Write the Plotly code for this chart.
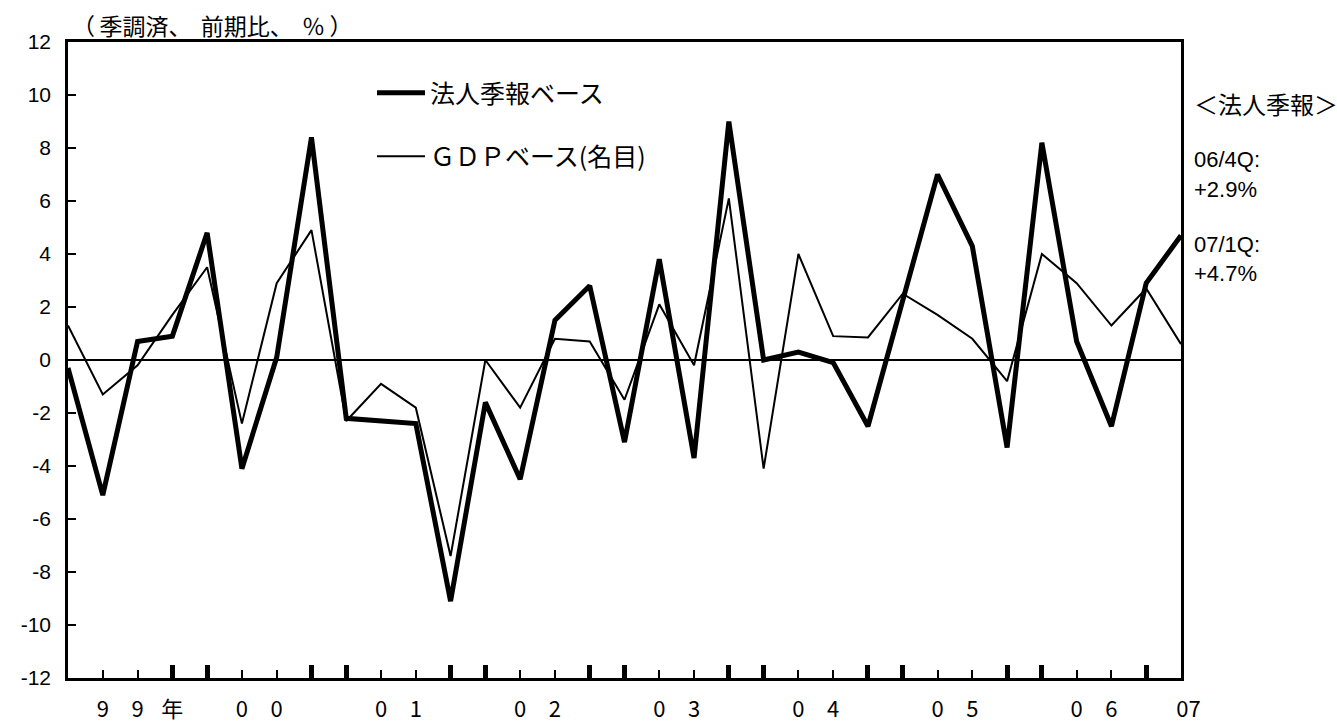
import plotly.graph_objects as go

# ---- data (1999Q1 .. 2007Q1, quarterly) ----
quarters = list(range(33))
hojin = [-0.3, -5.1, 0.7, 0.9, 4.8, -4.1, 0.1, 8.4, -2.2, -2.3, -2.4,
         -9.1, -1.6, -4.5, 1.5, 2.8, -3.1, 3.8, -3.7, 9.0, 0.0, 0.3,
         -0.1, -2.5, 2.3, 7.0, 4.3, -3.3, 8.2, 0.7, -2.5, 2.9, 4.7]
gdp = [1.3, -1.3, -0.2, 1.7, 3.5, -2.4, 2.9, 4.9, -2.3, -0.9, -1.8,
       -7.4, 0.0, -1.8, 0.8, 0.7, -1.5, 2.1, -0.2, 6.1, -4.1, 4.0,
       0.9, 0.85, 2.5, 1.7, 0.8, -0.8, 4.0, 2.9, 1.3, 2.7, 0.6]
x_labels = ["", "9", "9", "年", "", "0", "0", "", "", "0", "1", "",
            "", "0", "2", "", "", "0", "3", "", "", "0", "4", "",
            "", "0", "5", "", "", "0", "6", "", "\u00a0\u00a0\u00a007"]
thick_ticks = [3, 4, 7, 8, 11, 12, 15, 16, 19, 20, 23, 24, 27, 28, 31]
y_vals = list(range(-12, 13, 2))
y_labels = [str(v) for v in y_vals]
series_names = ["法人季報ベース", "ＧＤＰベース(名目)"]
title_text = "（\u2009季調済、\u2009\u2009前期比、\u2009\u2009％\u2009）"
side_texts = ["＜法人季報＞", "06/4Q:", "+2.9%", "07/1Q:", "+4.7%"]

FONT = "Liberation Sans, Arial, Noto Sans CJK JP, sans-serif"
CJK = "Noto Sans CJK JP, Liberation Sans, sans-serif"

W, H = 1337, 724
L, R, T, B = 68, 156, 42, 46
pw, ph = W - L - R, H - T - B


def px_x(p):
    return (p - L) / pw


def px_y(p):
    return (H - B - p) / ph


fig = go.Figure()
fig.add_trace(go.Scatter(
    x=quarters, y=hojin, mode="lines", name=series_names[0],
    line=dict(color="black", width=5), legendgroup="a"))
fig.add_trace(go.Scatter(
    x=quarters, y=gdp, mode="lines", name=series_names[1], xaxis="x2",
    line=dict(color="black", width=2), legendgroup="b"))

fig.update_layout(
    width=W, height=H,
    margin=dict(l=L, r=R, t=T, b=B, pad=0),
    paper_bgcolor="white", plot_bgcolor="white",
    font=dict(family=FONT, size=21, color="black"),
    xaxis=dict(
        range=[0, 32], tickmode="array", tickvals=quarters, ticktext=x_labels,
        ticks="inside", ticklen=8, tickwidth=2, tickcolor="black",
        showline=True, linewidth=2.5, linecolor="black", mirror=True,
        showgrid=False, zeroline=False, ticklabelstandoff=10,
        automargin=False, tickfont=dict(family=CJK, size=22)),
    xaxis2=dict(
        range=[0, 32], overlaying="x", anchor="y", side="bottom",
        tickmode="array", tickvals=thick_ticks, ticks="inside", ticklen=13,
        tickwidth=4.5, tickcolor="black", showticklabels=False,
        showline=False, showgrid=False, zeroline=False, automargin=False),
    yaxis=dict(
        range=[-12, 12], tickmode="array", tickvals=y_vals, ticktext=y_labels,
        ticks="inside", ticklen=8, tickwidth=2, tickcolor="black",
        showline=True, linewidth=2.5, linecolor="black", mirror=True,
        showgrid=False, zeroline=True, zerolinewidth=2,
        zerolinecolor="black", ticklabelstandoff=10, automargin=False),
    legend=dict(
        x=px_x(372), y=px_y(70), xanchor="left", yanchor="top",
        bgcolor="rgba(0,0,0,0)", borderwidth=0, tracegroupgap=28,
        itemwidth=48, font=dict(family=CJK, size=25),
        traceorder="grouped"),
    showlegend=True,
)

fig.add_annotation(text=title_text, xref="paper", yref="paper",
                   x=px_x(70), y=px_y(25), xanchor="left", yanchor="middle",
                   showarrow=False, font=dict(family=CJK, size=23))

side_y = [103, 160, 189, 244, 273]
for txt, yy in zip(side_texts, side_y):
    fig.add_annotation(text=txt, xref="paper", yref="paper",
                       x=px_x(1192), y=px_y(yy), xanchor="left",
                       yanchor="middle", showarrow=False,
                       font=dict(family=CJK if "法" in txt else FONT,
                                 size=24 if "法" in txt else 22))

fig.write_html("out.html",
               config={"displayModeBar": False},
               post_script="document.body.style.margin='0';"
                           "document.body.style.overflow='hidden';")
